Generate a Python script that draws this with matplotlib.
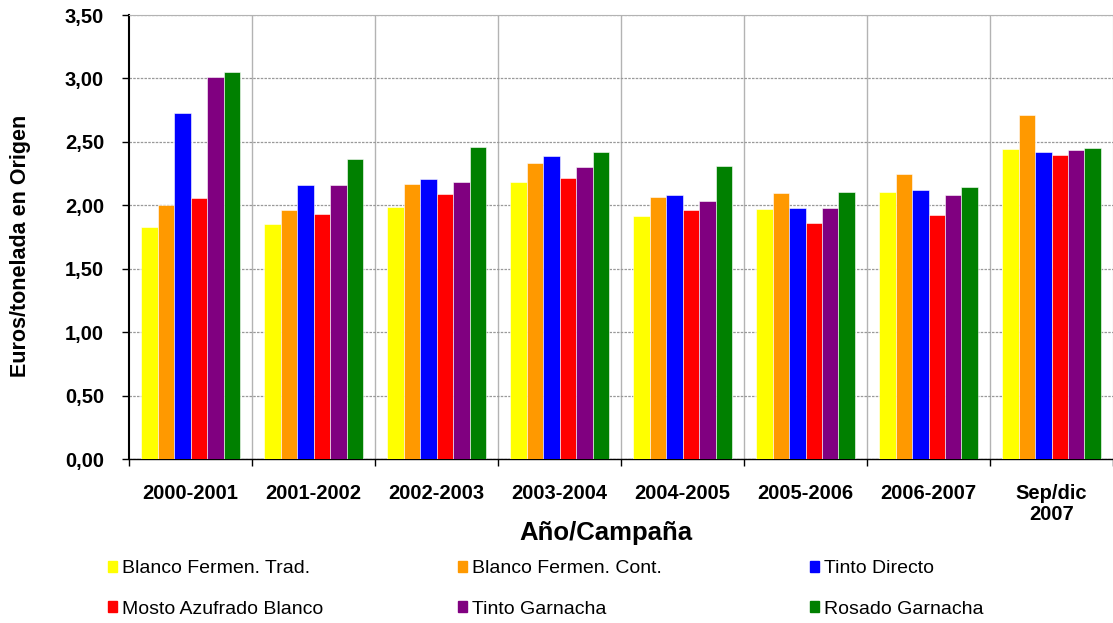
import numpy as np
import matplotlib
matplotlib.use('Agg')
import matplotlib.pyplot as plt
import matplotlib.patches as mpatches

plt.rcParams['font.family'] = ['Liberation Sans', 'DejaVu Sans']

campanas = ['2000-2001', '2001-2002', '2002-2003', '2003-2004',
            '2004-2005', '2005-2006', '2006-2007', 'Sep/dic\n2007']
series = ['Blanco Fermen. Trad.', 'Blanco Fermen. Cont.', 'Tinto Directo',
          'Mosto Azufrado Blanco', 'Tinto Garnacha', 'Rosado Garnacha']
colores = ['#FFFF00', '#FF9900', '#0000FF', '#FF0000', '#800080', '#008000']

blanco_trad = [1.83, 1.85, 1.99, 2.18, 1.915, 1.97, 2.105, 2.445]
blanco_cont = [2.00, 1.96, 2.17, 2.335, 2.065, 2.10, 2.25, 2.71]
tinto_directo = [2.73, 2.16, 2.21, 2.39, 2.085, 1.98, 2.12, 2.42]
mosto_azufrado = [2.055, 1.93, 2.09, 2.215, 1.96, 1.86, 1.92, 2.40]
tinto_garnacha = [3.015, 2.16, 2.18, 2.30, 2.03, 1.98, 2.085, 2.435]
rosado_garnacha = [3.05, 2.365, 2.46, 2.42, 2.31, 2.105, 2.145, 2.455]

valores = [blanco_trad, blanco_cont, tinto_directo,
           mosto_azufrado, tinto_garnacha, rosado_garnacha]

fig = plt.figure(figsize=(11.13, 6.23), dpi=100)
ax = fig.add_axes([0.116, 0.2632, 0.884, 0.7127])

x = np.arange(len(campanas))
w = 0.134
handles = []
for i, (vals, col, nombre) in enumerate(zip(valores, colores, series)):
    off = (i - 2.5) * w
    ax.bar(x + off, vals, width=w, color=col, edgecolor='white',
           linewidth=0.4, zorder=3)
    handles.append(mpatches.Patch(color=col, label=nombre))

ax.set_xlim(-0.5, len(campanas) - 0.5)
ax.set_ylim(0, 3.5)

# grid
yt = np.arange(0, 3.51, 0.5)
ax.set_yticks(yt)
ax.set_yticklabels([f'{v:.2f}'.replace('.', ',') for v in yt],
                   fontsize=14.5, fontweight='bold')
ax.yaxis.grid(True, linestyle=(0, (2, 1)), color='#999999', linewidth=0.9, zorder=0)
for b in np.arange(0.5, len(campanas) - 0.5, 1):
    ax.axvline(b, color='#b3b3b3', linewidth=1.0, zorder=0)

ax.set_xticks(x)
ax.set_xticklabels(campanas, fontsize=14.5, fontweight='bold', linespacing=1.15)
ax.tick_params(axis='x', length=0, pad=18)
ax.set_xticks(np.arange(-0.5, len(campanas), 1), minor=True)
ax.tick_params(axis='x', which='minor', length=5, width=1, direction='out')
ax.tick_params(axis='y', length=5, width=1, direction='out', pad=13)

for s in ['top', 'right']:
    ax.spines[s].set_color('#b3b3b3')
ax.spines['left'].set_linewidth(1.5)
ax.spines['bottom'].set_linewidth(1.0)

fig.text(0.018, 0.605, 'Euros/tonelada en Origen', rotation=90, fontsize=15.5,
         fontweight='bold', ha='center', va='center')
fig.text(0.544, 1 - 540 / 623, 'Año/Campaña', fontsize=18.5, fontweight='bold',
         ha='center', va='baseline')

# legend: three columns, two rows
xs = [108 / 1113, 458 / 1113, 810 / 1113]
for c in range(3):
    hs = [handles[c], handles[c + 3]]
    fig.legend(handles=hs, loc='upper left', bbox_to_anchor=(xs[c], 1 - 560 / 623),
               frameon=False, fontsize=14, handlelength=0.48,
               handleheight=0.48, handletextpad=0.24, labelspacing=1.22,
               borderpad=0, borderaxespad=0)

fig.savefig('out.png', dpi=100)
